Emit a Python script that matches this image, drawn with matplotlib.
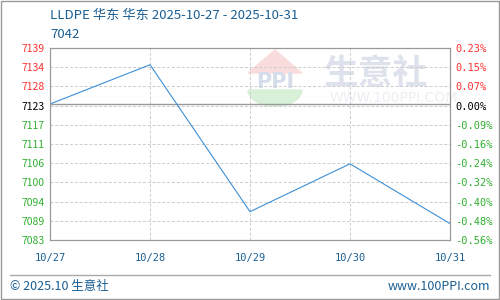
import matplotlib
matplotlib.use("Agg")
import matplotlib.pyplot as plt
from matplotlib.patches import Polygon, Wedge
import numpy as np

plt.rcParams['font.family'] = ['Noto Sans CJK SC', 'DejaVu Sans']

# data
dates = ['10/27', '10/28', '10/29', '10/30', '10/31']
prices = [7123, 7134.5, 7091.5, 7105.5, 7088]
base = 7123
left_labels = ['7139', '7134', '7128', '7123', '7117', '7111', '7106', '7100', '7094', '7089', '7083']
right_labels = ['0.23%', '0.15%', '0.07%', '0.00%', '-0.09%', '-0.16%', '-0.24%',
                '-0.32%', '-0.40%', '-0.48%', '-0.56%']
title = 'LLDPE 华东 华东 2025-10-27 - 2025-10-31'
subtitle = '7042'

ymin, ymax = 7083.2, 7139.4
ticks = np.linspace(ymax, ymin, len(left_labels))
red, green, blue = '#ff3030', '#2faf2f', '#1a5f94'

fig = plt.figure(figsize=(5, 3), dpi=100)
ax = fig.add_axes([0.1, 0.2, 0.8, 0.64])
x = np.arange(len(dates))
ax.plot(x, prices, color='#3d8fd6', lw=0.8, zorder=3)
ax.set_xlim(0, len(dates) - 1)
ax.set_ylim(ymin, ymax)

for t in ticks:
    ax.axhline(t, color='#cccccc', lw=0.7, ls=(0, (3, 2)), zorder=1)
for xi in x[1:-1]:
    ax.axvline(xi, color='#cccccc', lw=0.7, ls=(0, (3, 2)), zorder=1)
ax.axhline(base, color='#999999', lw=1.0, zorder=2)

def col(lbl):
    if lbl.startswith('-'):
        return green
    if lbl in ('7123', '0.00%'):
        return 'black'
    return red

ax.set_yticks(ticks)
ax.set_yticklabels(left_labels, fontsize=7.5)
for tl, lbl in zip(ax.get_yticklabels(), left_labels):
    tl.set_color(green if float(lbl) < base else col(lbl))
ax2 = ax.twinx()
ax2.set_ylim(ymin, ymax)
ax2.set_yticks(ticks)
ax2.set_yticklabels(right_labels, fontsize=7.5, family='DejaVu Sans Mono')
for tl, lbl in zip(ax2.get_yticklabels(), right_labels):
    tl.set_color(col(lbl))
ax.set_xticks(x)
ax.set_xticklabels(dates, fontsize=7.5, color=blue, family='DejaVu Sans Mono')
for a in (ax, ax2):
    a.tick_params(length=0, pad=4)
    for s in a.spines.values():
        s.set_color('#999999')
ax.tick_params(axis='x', pad=9)

# watermark logo (figure pixel space, y from top)
def fx(px): return px / 500
def fy(py): return 1 - py / 300
ax.add_patch(Polygon([[fx(248), fy(73)], [fx(275), fy(50)], [fx(302), fy(73)]],
                     closed=True, color='#fbdcdc', transform=fig.transFigure,
                     zorder=0.5, clip_on=False))
ax.add_patch(Wedge((fx(275), fy(90)), 0.054, 180, 360, color='#d8f0d8',
                   transform=fig.transFigure, zorder=0.5, clip_on=False))
ax.text(fx(275), fy(82), 'PPI', fontsize=15, color='#d5dcea', fontweight='bold',
        ha='center', va='center', family='DejaVu Sans', zorder=0.6,
        transform=fig.transFigure)
ax.text(fx(324), fy(73), '生意社', fontsize=25, color='#dde2ec', fontweight='bold',
        ha='left', va='center', zorder=0.6, transform=fig.transFigure)
ax.text(fx(330), fy(98), 'WWW.100PPI.COM', fontsize=10, color='#eceef3',
        ha='left', va='center', family='DejaVu Sans', zorder=0.6,
        transform=fig.transFigure)

fig.text(0.1, 0.947, title, fontsize=9.5, color=blue, va='center')
fig.text(0.1, 0.885, subtitle, fontsize=9.5, color=blue, va='center')

# footer
fig.add_artist(plt.Line2D([0.02, 0.98], [0.083, 0.083], color='#aaaaaa', lw=1))
fig.text(0.02, 0.045, '© 2025.10 生意社', fontsize=9, color=blue, va='center')
fig.text(0.98, 0.045, 'www.100PPI.com', fontsize=9, color=blue, va='center', ha='right')
fig.add_artist(plt.Rectangle((0.001, 0.002), 0.997, 0.995, fill=False,
                             edgecolor='#999999', lw=1, transform=fig.transFigure))

fig.savefig('out.png', dpi=100)
